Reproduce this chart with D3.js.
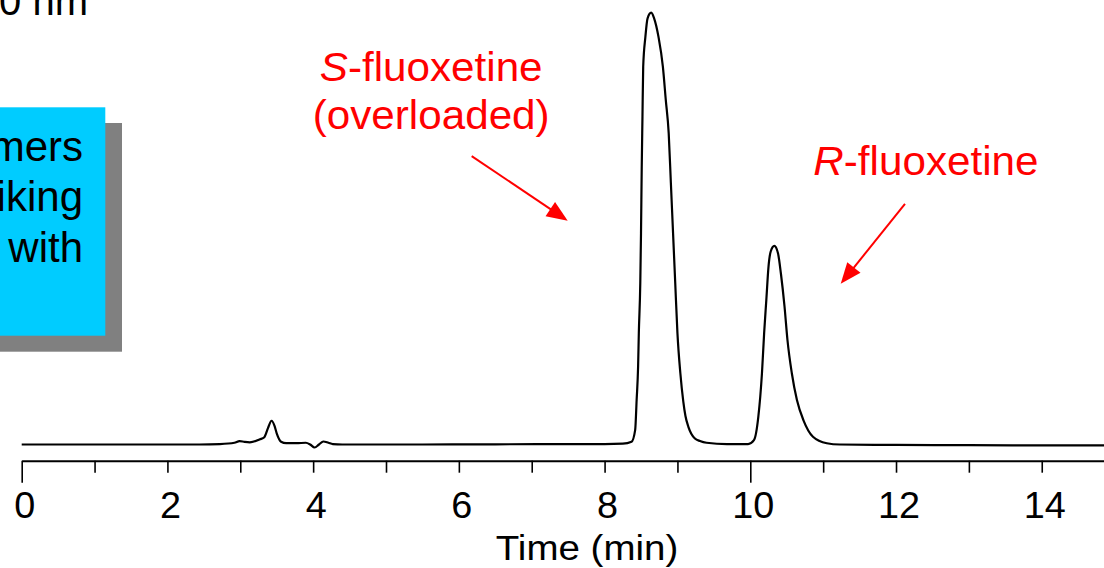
<!DOCTYPE html>
<html>
<head>
<meta charset="utf-8">
<script src="https://cdn.jsdelivr.net/npm/d3@7"></script>
<style>
  html, body { margin: 0; padding: 0; background: #fff; overflow: hidden; }
  svg { display: block; font-family: "Liberation Sans", Arial, sans-serif; }
</style>
</head>
<body>
<svg id="chart" width="1104" height="568"></svg>
<script>
// ---- data ----
const time = [0, 1.0, 2.0, 2.44, 2.72, 2.92, 2.99, 3.06, 3.13, 3.27, 3.33, 3.38, 3.43, 3.47, 3.50, 3.56, 3.63, 3.77, 3.90, 3.96, 4.02, 4.08, 4.14, 4.21, 4.27, 4.40, 4.63, 5.5, 6.5, 7.5, 8.0, 8.25, 8.37, 8.42, 8.44, 8.46, 8.47, 8.49, 8.50, 8.51, 8.52, 8.53, 8.56, 8.59, 8.64, 8.68, 8.74, 8.80, 8.84, 8.88, 8.91, 8.94, 8.97, 9.00, 9.04, 9.08, 9.11, 9.15, 9.19, 9.24, 9.31, 9.40, 9.68, 9.97, 10.05, 10.11, 10.16, 10.19, 10.22, 10.25, 10.28, 10.33, 10.38, 10.42, 10.47, 10.51, 10.57, 10.64, 10.73, 10.86, 11.05, 11.23, 12.0, 13.0, 14.0, 15.5];
const absorbance = [0, 0, 0, 0, 0.1, 0.4, 0.8, 0.6, 0.5, 1.2, 1.7, 3.8, 5.5, 4.3, 2.6, 0.65, 0.3, 0.3, 0.4, 0.0, -0.7, 0.0, 0.7, 0.4, 0.1, 0, 0, 0, 0.05, 0.1, 0.1, 0.2, 0.65, 3.4, 10.3, 18.0, 25.8, 37.4, 49.0, 64.3, 75.9, 87.5, 94.4, 98.7, 100, 98.7, 94.4, 87.5, 79.8, 72.1, 60.5, 48.9, 37.3, 25.8, 16.5, 10.0, 6.6, 4.1, 2.5, 1.4, 0.8, 0.4, 0.1, 0.1, 1.0, 6.4, 16.5, 25.8, 33.5, 41.2, 44.7, 46.0, 44.3, 39.6, 31.9, 24.2, 16.5, 10.3, 5.6, 1.8, 0.3, 0, -0.1, -0.15, -0.2, -0.2];
const tickValues = [0, 1, 2, 3, 4, 5, 6, 7, 8, 9, 10, 11, 12, 13, 14, 15];
const tickLabels = ["0", "", "2", "", "4", "", "6", "", "8", "", "10", "", "12", "", "14", ""];
const longTicks = [0, 10];
const xTitle = "Time (min)";
const detectorText = "0 nm";
const boxLines = ["mers", "iking", " with"];
// annotations: label parts with anchor time / value
const peakLabels = [
  { italic: "S", rest: "-fluoxetine", t: 5.62, v: 84.2 },
  { italic: "", rest: "(overloaded)", t: 5.62, v: 73.0 },
  { italic: "R", rest: "-fluoxetine", t: 12.41, v: 62.4 }
];
const arrows = [
  { t1: 6.176, v1: 66.8, t2: 7.494, v2: 51.8 },
  { t1: 12.123, v1: 55.7, t2: 11.241, v2: 37.2 }
];

// ---- scales ----
const svg = d3.select("#chart");
const x = d3.scaleLinear().domain([0, 15.5]).range([21.7, 21.7 + 72.86 * 15.5]);
const y = d3.scaleLinear().domain([0, 100]).range([444.5, 12.7]);
const axisY = 460.7;

// ---- side box (cropped) ----
svg.append("rect").attr("x", -20).attr("y", 123).attr("width", 142).attr("height", 228.7).attr("fill", "#808080");
svg.append("rect").attr("x", -20).attr("y", 107.3).attr("width", 125.3).attr("height", 228.4).attr("fill", "#00CCFF");
svg.append("g").selectAll("text").data(boxLines).join("text")
  .attr("x", 83).attr("y", (d, i) => 160.5 + i * 50.8)
  .attr("text-anchor", "end").attr("font-size", 42).attr("fill", "#000")
  .attr("xml:space", "preserve")
  .text(d => d);

// detector label (cropped at top)
svg.append("text").attr("x", 88).attr("y", 15).attr("text-anchor", "end")
  .attr("font-size", 40).attr("fill", "#000").text(detectorText);

// ---- trace ----
const pts = time.map((t, i) => [t, absorbance[i]]);
svg.append("path").datum(pts)
  .attr("fill", "none").attr("stroke", "#000").attr("stroke-width", 2.2)
  .attr("stroke-linejoin", "round")
  .attr("d", d3.line().x(d => x(d[0])).y(d => y(d[1])).curve(d3.curveMonotoneX));

// ---- x axis ----
const axis = d3.axisBottom(x).tickValues(tickValues).tickSize(12).tickSizeOuter(0)
  .tickFormat((d, i) => tickLabels[i]);
const gx = svg.append("g").attr("transform", `translate(0,${axisY})`).call(axis);
gx.select(".domain").attr("stroke", "#000").attr("stroke-width", 2);
gx.selectAll(".tick line").attr("stroke", "#000").attr("stroke-width", 1.6)
  .attr("y2", d => longTicks.includes(d) ? 22 : 12);
gx.selectAll(".tick text").attr("x", 0).attr("y", 0).attr("dy", 0)
  .attr("transform", "translate(2.5,57.3) scale(1.05,1)")
  .attr("font-size", 36).attr("fill", "#000").attr("font-family", "Liberation Sans, Arial, sans-serif");

svg.append("text").attr("transform", "translate(587,559.5) scale(1.1,1)").attr("text-anchor", "middle")
  .attr("font-size", 35).attr("fill", "#000").text(xTitle);

// ---- annotations ----
const lab = svg.append("g").selectAll("text").data(peakLabels).join("text")
  .attr("transform", d => `translate(${x(d.t)},${y(d.v)}) scale(1.055,1)`)
  .attr("text-anchor", "middle").attr("font-size", 40).attr("fill", "#FF0000");
lab.append("tspan").attr("font-style", "italic").text(d => d.italic);
lab.append("tspan").text(d => d.rest);

const ag = svg.append("g");
arrows.forEach(a => {
  const x1 = x(a.t1), y1 = y(a.v1), x2 = x(a.t2), y2 = y(a.v2);
  const dx = x2 - x1, dy = y2 - y1, L = Math.hypot(dx, dy);
  const ux = dx / L, uy = dy / L, head = 21, hw = 8.5;
  const bx = x2 - ux * head, by = y2 - uy * head;
  ag.append("line").attr("x1", x1).attr("y1", y1).attr("x2", bx + ux * 2).attr("y2", by + uy * 2)
    .attr("stroke", "#FF0000").attr("stroke-width", 2);
  ag.append("polygon")
    .attr("points", [[x2, y2], [bx - uy * hw, by + ux * hw], [bx + uy * hw, by - ux * hw]].map(p => p.join(",")).join(" "))
    .attr("fill", "#FF0000");
});
</script>
</body>
</html>
